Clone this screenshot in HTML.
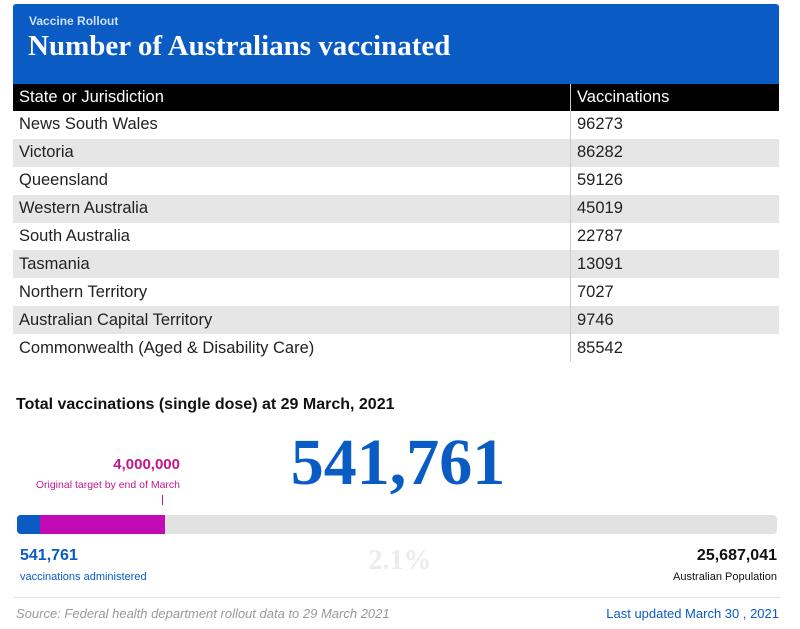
<!DOCTYPE html>
<html><head><meta charset="utf-8"><style>
body{margin:0;width:800px;height:629px;background:#fff;font-family:"Liberation Sans",sans-serif;position:relative;overflow:hidden}
.abs{position:absolute}
#hdr{left:13px;top:4px;width:766px;height:80px;background:#0a5bc4;border-radius:3px 3px 0 0}
table{position:absolute;left:13px;top:84px;width:766px;border-collapse:collapse;font-size:16.5px;color:#222}
th{background:#000;color:#fff;font-weight:normal;text-align:left;height:27px;padding:0 6px}
td{height:27.9px;padding:0 6px}
tr:nth-child(even) td{background:#e6e6e6}
.c2{width:196px;border-left:1px solid #ccc}
</style></head><body>
<div id="hdr" class="abs">
<div class="abs" style="left:16px;top:10px;color:#cfe0ff;font-size:12px;font-weight:bold">Vaccine Rollout</div>
<div class="abs" style="left:15px;top:26px;color:#fff;font:bold 29px 'Liberation Serif',serif">Number of Australians vaccinated</div>
</div>
<table><thead><tr><th>State or Jurisdiction</th><th class="c2">Vaccinations</th></tr></thead><tbody id="tb"></tbody></table>
<div class="abs" style="left:16px;top:396px;font-size:16px;font-weight:bold;color:#111">Total vaccinations (single dose) at 29 March, 2021</div>
<div class="abs" id="big" style="left:200px;width:396px;text-align:center;top:425px;font:bold 66px 'Liberation Serif',serif;color:#0a5bc4"></div>
<div class="abs" id="tgt" style="right:620px;top:456px;font-size:15px;font-weight:bold;color:#c0168f"></div>
<div class="abs" style="right:620px;top:479px;font-size:10.5px;color:#c0168f">Original target by end of March</div>
<div class="abs" id="tick" style="top:495px;width:1px;height:10px;background:#c0168f"></div>
<div class="abs" id="track" style="left:17px;top:515px;width:760px;height:19px;background:#e2e2e2;border-radius:4px;overflow:hidden">
<div class="abs" id="tbar" style="left:0;top:0;height:19px;background:#c20bb5"></div>
<div class="abs" id="abar" style="left:0;top:0;height:19px;background:#0a5bc4"></div>
</div>
<div class="abs" id="adm" style="left:20px;top:547px;font-size:16px;font-weight:bold;color:#0a5bc4"></div>
<div class="abs" style="left:20px;top:571px;font-size:11px;color:#0a5bc4">vaccinations administered</div>
<div class="abs" id="pct" style="left:350px;width:100px;text-align:center;top:545px;font:bold 28px 'Liberation Serif',serif;color:#ececec"></div>
<div class="abs" id="pop" style="right:23px;top:547px;font-size:16px;font-weight:bold;color:#111"></div>
<div class="abs" style="right:23px;top:571px;font-size:11px;color:#111">Australian Population</div>
<div class="abs" style="left:13px;top:597px;width:767px;height:1px;background:#e4e4e4"></div>
<div class="abs" style="left:16px;top:606px;font-size:13px;font-style:italic;color:#999">Source: Federal health department rollout data to 29 March 2021</div>
<div class="abs" style="right:21px;top:606px;font-size:13px;color:#0a5bc4">Last updated March 30 , 2021</div>
<script>
const states=["News South Wales","Victoria","Queensland","Western Australia","South Australia","Tasmania","Northern Territory","Australian Capital Territory","Commonwealth (Aged & Disability Care)"];
const counts=[96273,86282,59126,45019,22787,13091,7027,9746,85542];
const administered=541761;
const target=4000000;
const population=25687041;
const tb=document.getElementById('tb');
states.forEach((s,i)=>{
 const tr=document.createElement('tr');
 
 
 const a=document.createElement('td');a.textContent=s;
 
 
 const b=document.createElement('td');b.className='c2';b.textContent=counts[i];
 
 
 tr.appendChild(a);tr.appendChild(b);tb.appendChild(tr);
});
const f=n=>n.toLocaleString('en-US');
const W=760,x=v=>W*Math.pow(v/population,0.93)*1.1;
document.getElementById('big').textContent=f(administered);
document.getElementById('adm').textContent=f(administered);
document.getElementById('pop').textContent=f(population);
document.getElementById('tgt').textContent=f(target);
document.getElementById('pct').textContent=(administered/population*100).toFixed(1)+'%';
document.getElementById('abar').style.width=x(administered)+'px';
document.getElementById('tbar').style.width=x(target)+'px';
document.getElementById('tick').style.left=(17+x(target)-3)+'px';
</script>
</body></html>
